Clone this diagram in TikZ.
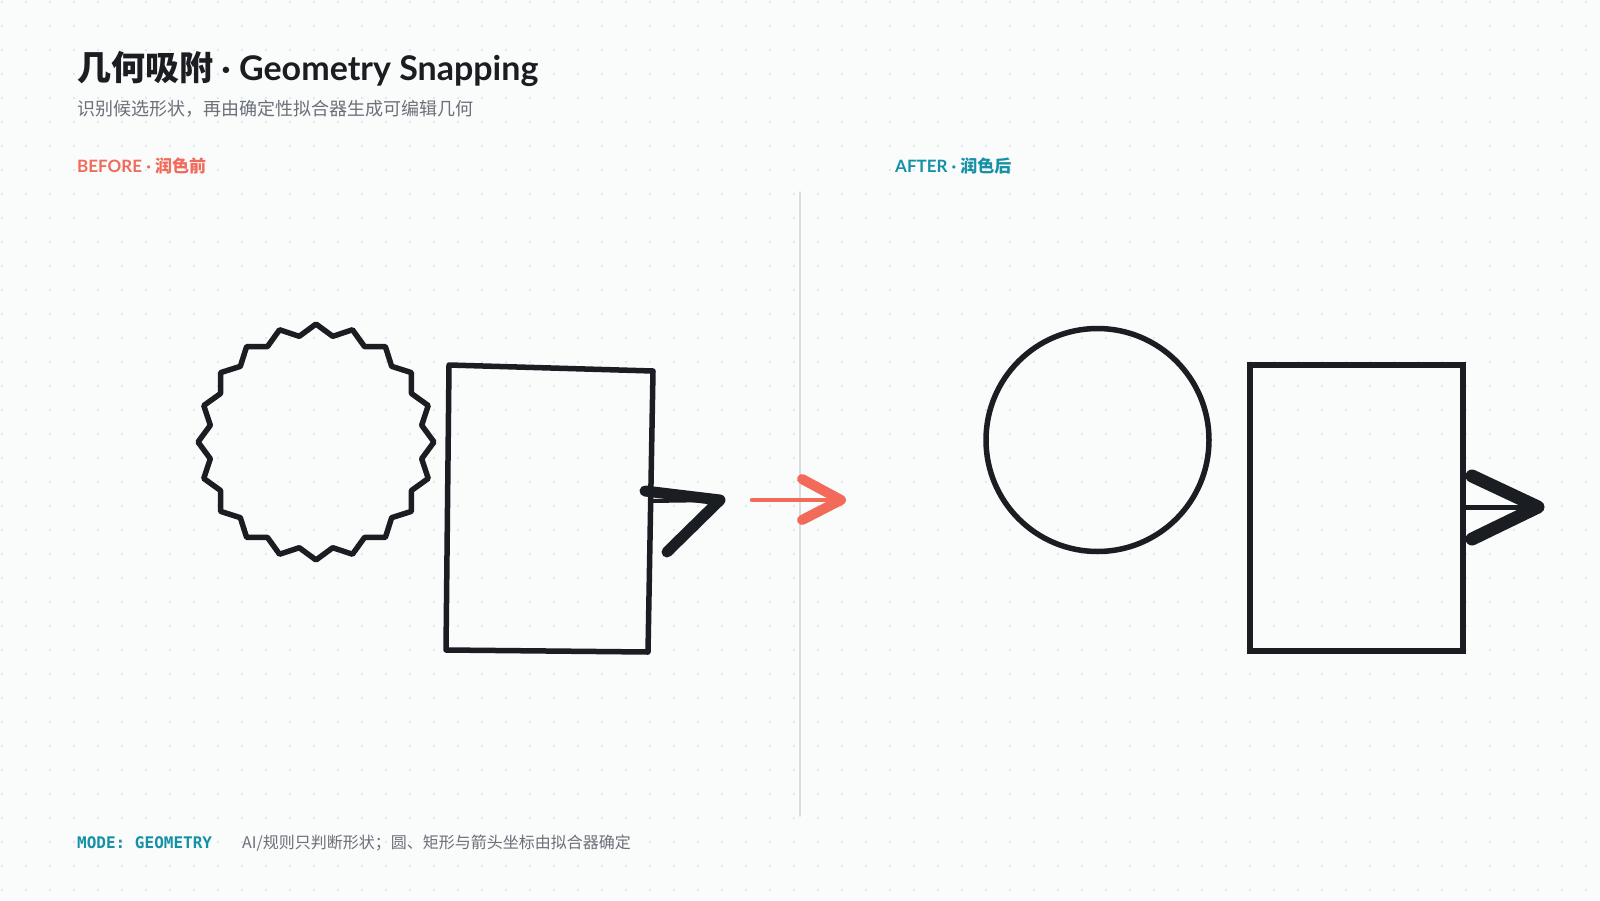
\documentclass[tikz,border=0pt]{standalone}
\usepackage{fontspec}
\setmainfont{Lato}
\setmonofont{DejaVu Sans Mono}
\newfontfamily\cjk{Noto Sans CJK SC}
\definecolor{ink}{HTML}{1A1D21}
\definecolor{coral}{HTML}{F26A5A}
\definecolor{tealink}{HTML}{1591A6}
\definecolor{muted}{HTML}{6B7079}
\definecolor{paper}{HTML}{FAFBFB}
\definecolor{dotc}{HTML}{DDE1E4}
\definecolor{rulec}{HTML}{D8DDE2}
\tikzset{
  stroke/.style={draw=ink, line width=5.5pt},
  lbl/.style={inner sep=0pt, anchor=base west},
}
\begin{document}
\begin{tikzpicture}[x=1pt,y=-1pt,line join=round,line cap=round]
	\fill[paper] (0,0) rectangle (1600,900);
	\useasboundingbox (0,0) rectangle (1600,900);
	\foreach \i in {0,...,66} \foreach \j in {0,...,37}
		\fill[dotc] (2+24*\i,2+24*\j) circle (1.2pt);
	\node[lbl, text=ink] (title) at (77,80) {\fontsize{34}{40}\selectfont\bfseries{\cjk 几何吸附} · Geometry Snapping};
	\node[lbl, text=muted] (subtitle) at (77,115) {\fontsize{18}{24}\selectfont\cjk 识别候选形状，再由确定性拟合器生成可编辑几何};
	\node[lbl, text=coral] (before) at (77,172) {\fontsize{17}{20}\selectfont\bfseries BEFORE · {\cjk 润色前}};
	\node[lbl, text=tealink] (after) at (895,172) {\fontsize{17}{20}\selectfont\bfseries AFTER · {\cjk 润色后}};
	\path (800,192) coordinate (divT)
		(800,816) coordinate (divB)
		(752,500) coordinate (mTail)
		(841,500) coordinate (mTip)
		(802,479) coordinate (mUp)
		(802,520) coordinate (mLo);
	\draw[rulec, line width=1.5pt] (divT)--(divB);
	\draw[coral, line width=4.5pt] (mTail)--(mTip);
	\draw[coral, line width=10pt] (mUp)--(mTip)--(mLo);
	% before: rough strokes
	\begin{scope}[shift={(316,442)}]
		\draw[stroke] (0:118) foreach \k [evaluate=\k as \rr using {ifthenelse(isodd(\k),107,118)}] in {1,...,39} {--({\k*9}:\rr)} --cycle;
	\end{scope}
	\path (449,365) coordinate (bTL)
		(653,371) coordinate (bTR)
		(648,652) coordinate (bBR)
		(446,650) coordinate (bBL)
		(645,491) coordinate (bTail)
		(651,501) coordinate (bTail2)
		(720,500) coordinate (bTip)
		(667,552) coordinate (bBarb);
	\draw[stroke] (bTL)--(bTR)--(bBR)--(bBL)--cycle;
	\draw[ink, line width=11pt] (bTail)--(bTip)--(bBarb);
	\draw[ink, line width=4pt] (bTail2)--(bTip);
	% after: fitted geometry
	\path (1097.5,440) coordinate (aC)
		(1250,365) coordinate (aTL)
		(1463,651) coordinate (aBR)
		(1463,507) coordinate (aTail)
		(1538,507) coordinate (aTip)
		(1472,476) coordinate (aUp)
		(1472,539) coordinate (aLo);
	\draw[stroke] (aC) circle (111.5pt);
	\draw[stroke, line join=miter, line cap=butt] (aTL) rectangle (aBR);
	\draw[ink, line width=5pt, line cap=butt] (aTail)--(aTip);
	\draw[ink, line width=13pt] (aUp)--(aTip)--(aLo);
	\node[lbl, text=tealink] (mode) at (77,848) {\fontsize{16}{20}\selectfont\ttfamily\bfseries MODE: GEOMETRY};
	\node[lbl, text=muted] (note) at (242,848) {\fontsize{16}{20}\selectfont\cjk AI/规则只判断形状；圆、矩形与箭头坐标由拟合器确定};
\end{tikzpicture}
\end{document}
